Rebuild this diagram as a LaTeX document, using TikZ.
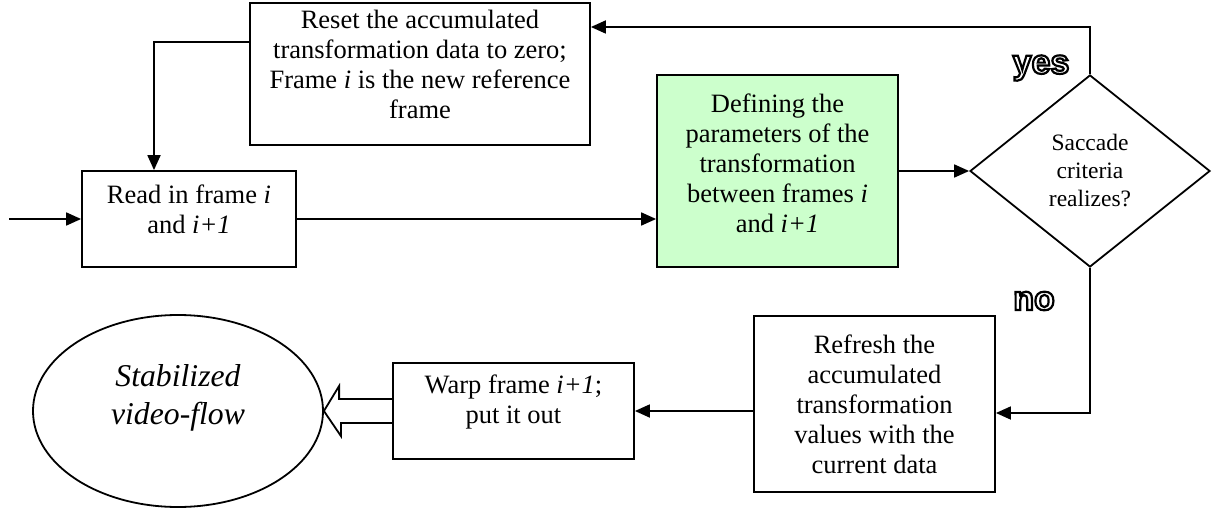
\documentclass[tikz,border=0pt]{standalone}
\usepackage{fontspec}
\setmainfont{Liberation Serif}
\newfontfamily\labfont{Liberation Sans}
\usetikzlibrary{shapes.geometric,arrows.meta,calc}
\definecolor{boxgreen}{RGB}{204,255,204}
\newcommand\hollowword[1]{\special{pdf:literal direct 1 Tr 2.2 w}#1\special{pdf:literal direct 0 Tr 1 w}}
\begin{document}
\begin{tikzpicture}[x=1pt,y=-1pt,
  boxstyle/.style={draw,line width=1.8pt,rectangle,align=center,inner sep=0pt,
    font=\fontsize{26.5}{30}\selectfont},
  conn/.style={line width=1.8pt,-{Triangle[length=15pt,width=13pt]}},
  decision/.style={draw,line width=1.8pt,diamond,aspect=1.25,inner sep=0pt,align=center,
    font=\fontsize{23.5}{28}\selectfont},
  terminal/.style={draw,line width=1.8pt,ellipse,inner sep=0pt,align=center,
    font=\itshape\fontsize{31.7}{38}\selectfont},
  answer/.style={font=\labfont\bfseries\fontsize{34}{34}\selectfont,inner sep=0pt}]
\useasboundingbox (0,0) rectangle (1220,513);

\node[boxstyle,minimum width=340pt,minimum height=142pt] (reset) at (420,74)
  {Reset the accumulated\\transformation data to zero;\\Frame \textit{i} is the new reference\\frame\\[-10pt]};
\node[boxstyle,minimum width=214pt,minimum height=96pt] (read) at (189,219)
  {Read in frame \textit{i}\\and \textit{i+1}\\[-10pt]};
\node[boxstyle,fill=boxgreen,minimum width=241pt,minimum height=192pt] (define) at (777.5,171)
  {Defining the\\parameters of the\\transformation\\between frames \textit{i}\\and \textit{i+1}\\[-14pt]};
\node[decision,minimum width=240pt,minimum height=192pt] (dia) at (1090,171)
  {Saccade\\criteria\\realizes?};
\node[boxstyle,minimum width=241pt,minimum height=176pt] (refresh) at (874.5,404)
  {Refresh the\\accumulated\\transformation\\values with the\\current data};
\node[boxstyle,minimum width=241pt,minimum height=96pt] (warp) at (513.5,411)
  {Warp frame \textit{i+1};\\put it out\\[-6pt]};
\node[terminal,minimum width=290pt,minimum height=192pt] (ell) at (178,411)
  {Stabilized\\video-flow\\[-4pt]};

\coordinate (inC) at (9,219);
\coordinate (yesC) at (1090,27);
\coordinate (resC) at (154,42);
\coordinate (noC) at (1090,413);

\draw[conn] (inC) -- (read.west);
\draw[conn] (read.east) -- (read.east -| define.west);
\draw[conn] (define.east) -- (dia.west);
\draw[conn] (dia.north) |- (reset.east |- yesC);
\draw[conn] (reset.west |- resC) -| (read.north -| resC);
\draw[conn] (dia.south) |- (refresh.east |- noC);
\draw[conn] (refresh.west |- warp.east) -- (warp.east);
\draw[line width=1.8pt,line join=miter]
  ($(warp.west)+(0,-12)$) -- ++(-53,0) -- ++(0,-13) -- (ell.east)
  -- ++(17,25) -- ++(0,-13) -- ($(warp.west)+(0,12)$);

\node[answer] (yes) at (1041,68) {\hollowword{yes}};
\node[answer] (no) at (1034,301) {\hollowword{no}};
\end{tikzpicture}
\end{document}
